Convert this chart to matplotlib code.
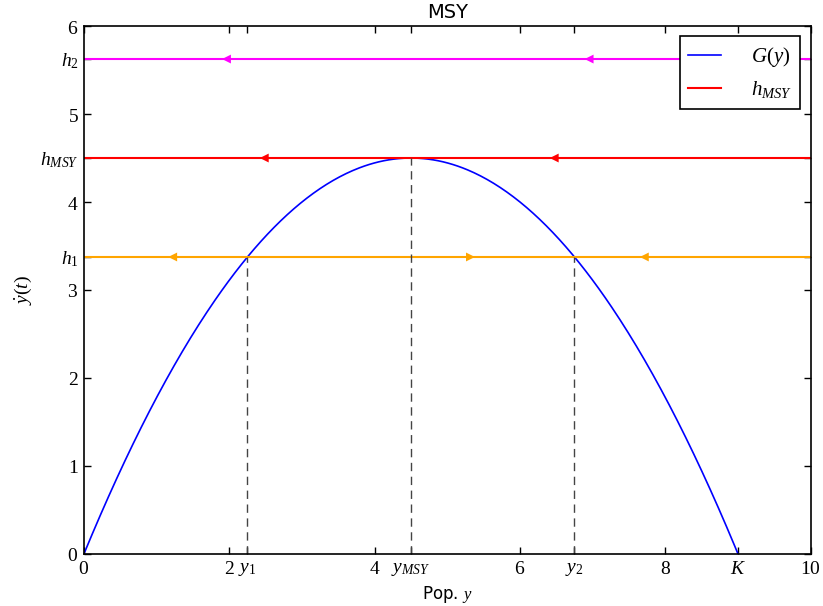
import numpy as np
import matplotlib.pyplot as plt

# logistic growth model
r = 2.0
K = 9.0
h_msy = 4.5
h1 = 3.375
h2 = 5.625
y1 = 2.25
y_msy = 4.5
y2 = 6.75

# arrow tip positions (x, direction) on each harvest line
arrows_h2 = [(1.9, -1), (6.89, -1)]
arrows_msy = [(2.42, -1), (6.41, -1)]
arrows_h1 = [(1.16, -1), (5.38, 1), (7.65, -1)]

plt.rcParams['mathtext.fontset'] = 'custom'
plt.rcParams['mathtext.rm'] = 'Liberation Serif'
plt.rcParams['mathtext.it'] = 'Liberation Serif:italic'

fig = plt.figure(figsize=(8.23, 6.06), dpi=100)
ax = fig.add_axes([0.102, 0.086, 0.883, 0.871])

y = np.linspace(0, K, 400)
G = r * y * (1 - y / K)
ax.plot(y, G, color='blue', lw=1.2, label='$G(y)$')

ax.axhline(h2, color='magenta', lw=1.5)
ax.axhline(h_msy, color='red', lw=1.5, label='$h_{MSY}$')
ax.axhline(h1, color='orange', lw=1.5)


def draw_arrows(ax, items, level, color):
    for x, d in items:
        ax.annotate('', xy=(x, level), xytext=(x - d * 0.02, level),
                    arrowprops=dict(arrowstyle='-|>', color=color, lw=0,
                                    mutation_scale=16, shrinkA=0, shrinkB=0))


draw_arrows(ax, arrows_h2, h2, 'magenta')
draw_arrows(ax, arrows_msy, h_msy, 'red')
draw_arrows(ax, arrows_h1, h1, 'orange')

for xv, hv in [(y1, h1), (y_msy, h_msy), (y2, h1)]:
    ax.plot([xv, xv], [0, hv], color='#444444', ls=(0, (6, 4)), lw=1)

ax.set_xlim(0, 10)
ax.set_ylim(0, 6)

xticks = [0, 2, y1, 4, y_msy, 6, y2, 8, K, 10]
xlabels = ['$0$', '$2$', '$y_1$', '$4$', '$y_{MSY}$', '$6$', '$y_2$', '$8$', '$K$', '$10$']
yticks = [0, 1, 2, 3, h1, 4, h_msy, 5, h2, 6]
ylabels = ['$0$', '$1$', '$2$', '$3$', '$h_1$', '$4$', '$h_{MSY}$', '$5$', '$h_2$', '$6$']
ax.set_xticks(xticks)
ax.set_xticklabels(xlabels, fontsize=14)
ax.set_yticks(yticks)
ax.set_yticklabels(ylabels, fontsize=14)
ax.tick_params(direction='in', top=True, right=True, length=5, width=1, pad=4)
for s in ax.spines.values():
    s.set_linewidth(1.2)

ax.set_title('MSY', fontsize=14)
ax.set_xlabel('Pop. $y$', fontsize=12)
ax.set_ylabel(r'$\dot{y}(t)$', fontsize=14)

leg = ax.legend(loc='upper right', fontsize=15, fancybox=False, edgecolor='black',
                framealpha=1, handlelength=1.6, handletextpad=1.4, borderaxespad=0.5)
leg.get_frame().set_linewidth(1.2)

fig.savefig('out.png', dpi=100)
